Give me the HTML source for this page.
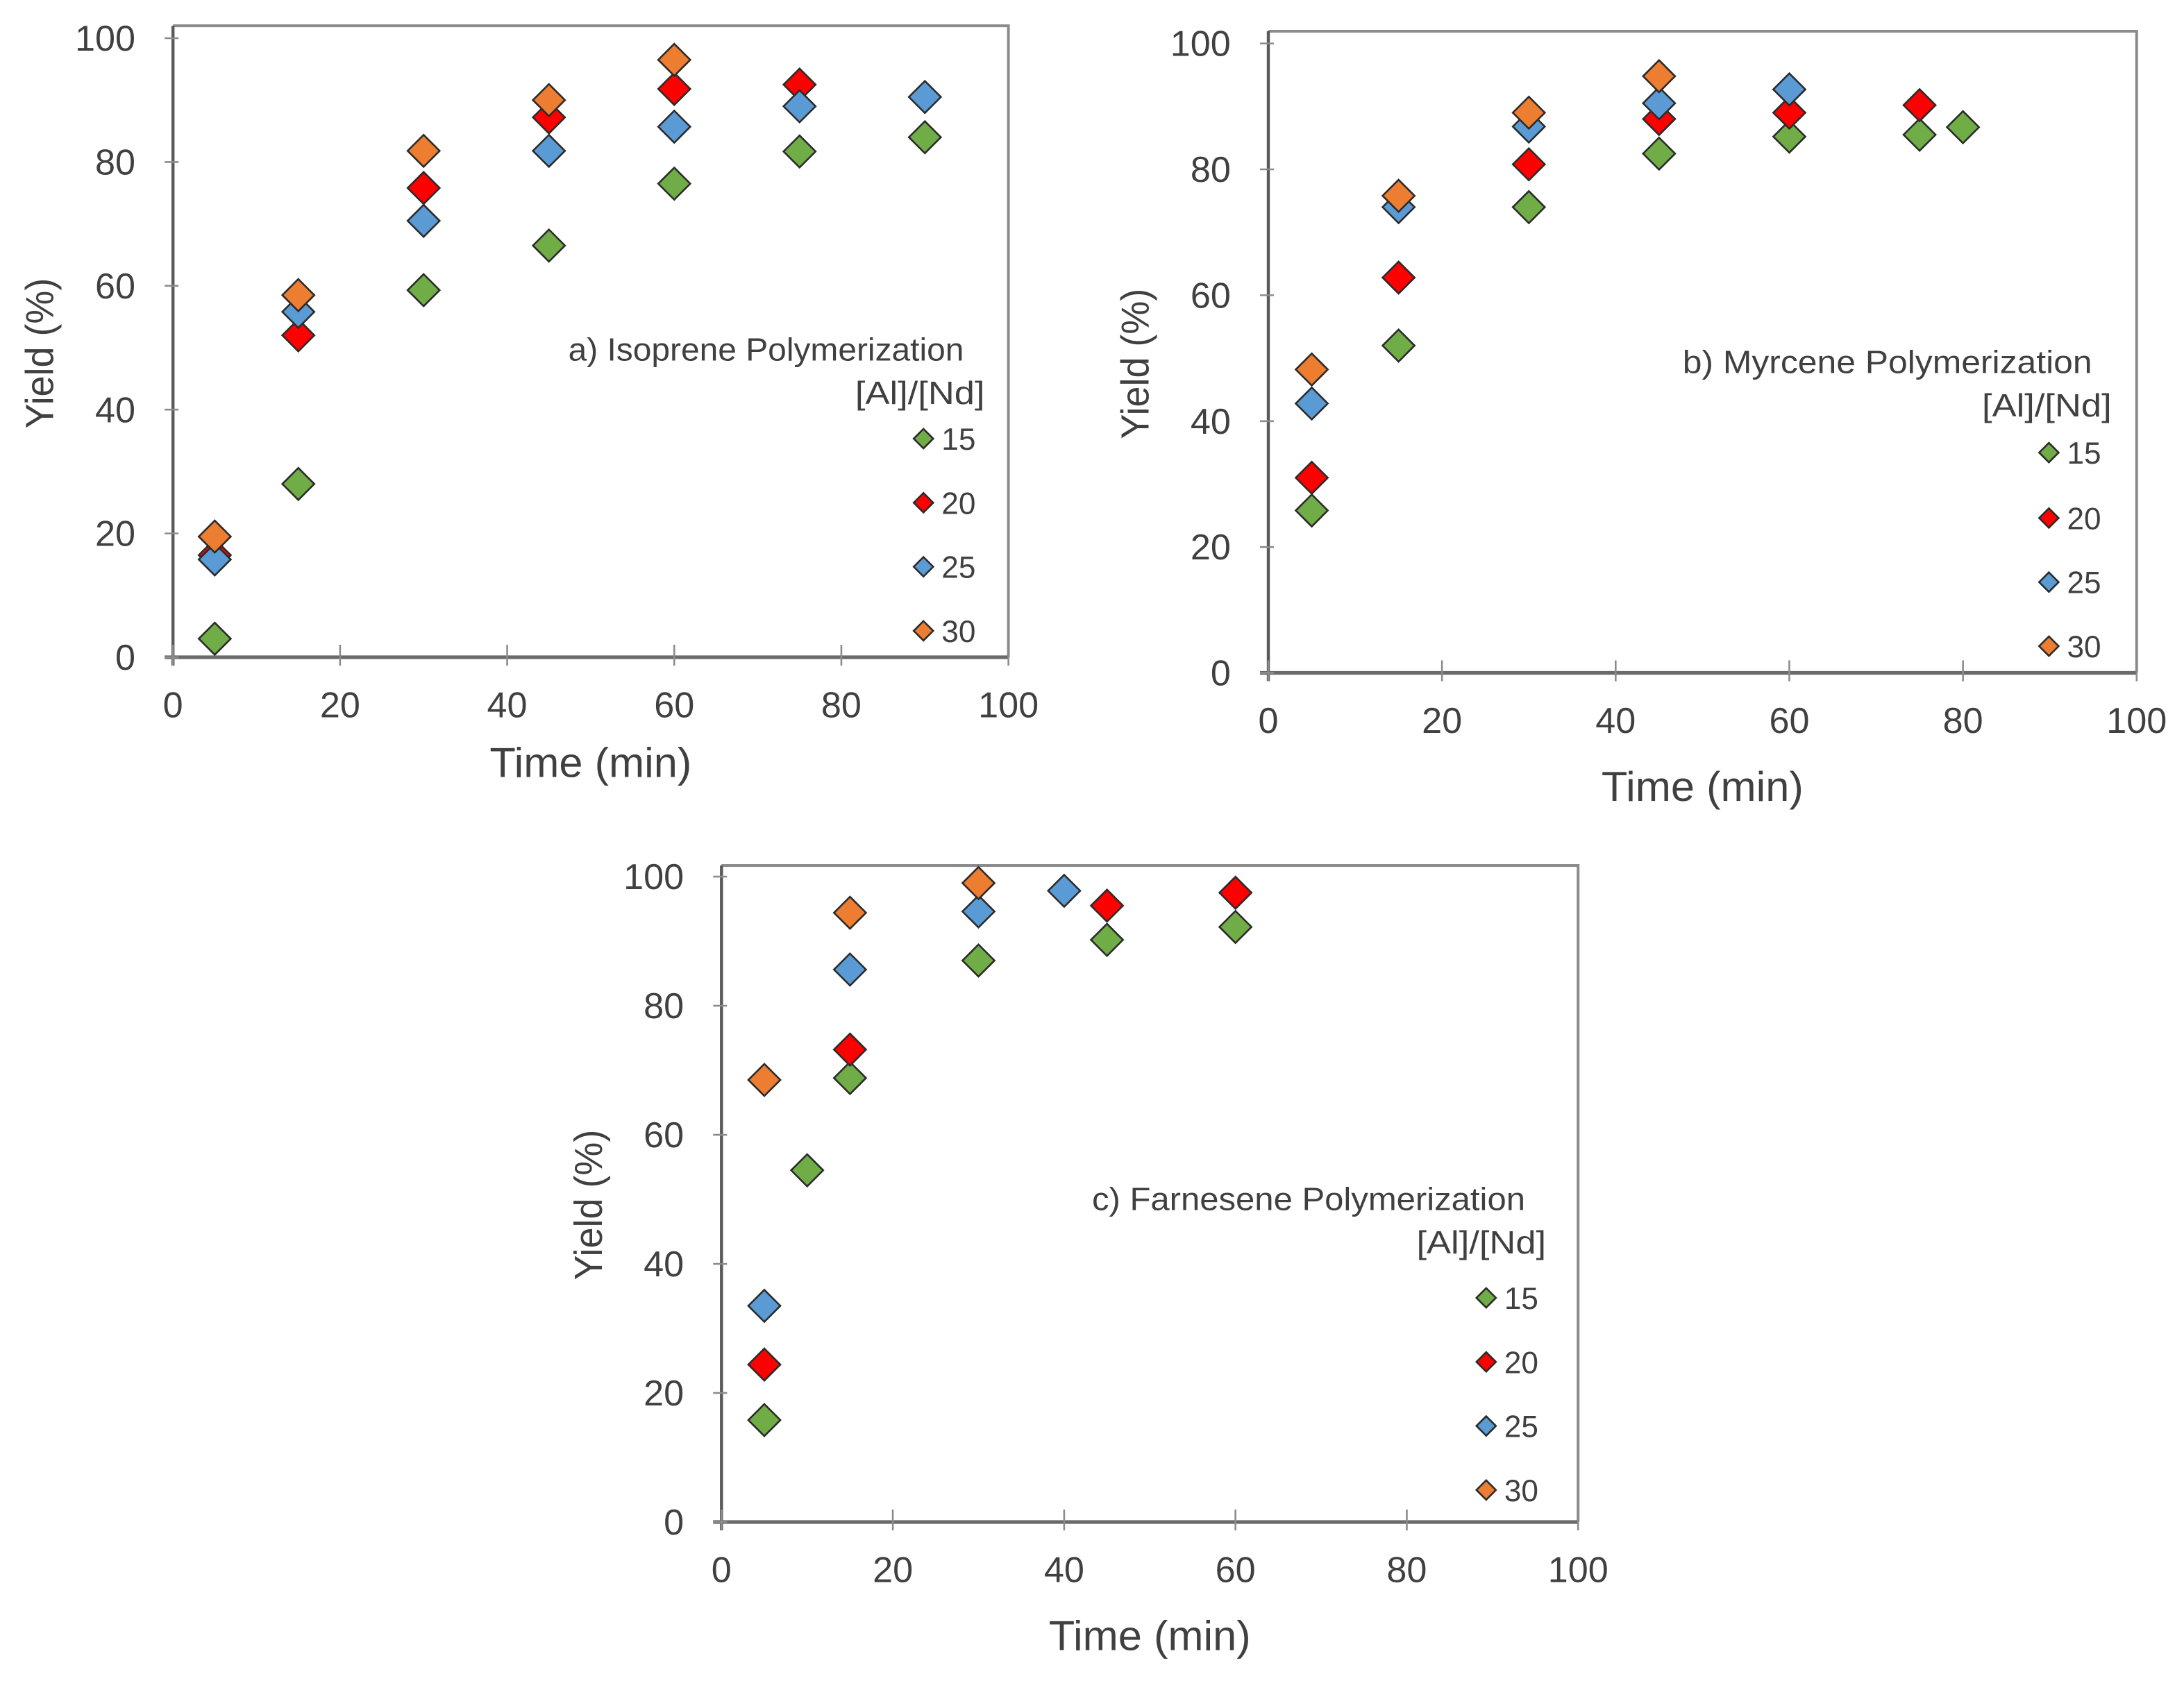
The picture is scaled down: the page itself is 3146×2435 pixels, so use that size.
<!DOCTYPE html>
<html><head><meta charset="utf-8">
<style>
html,body{margin:0;padding:0;background:#fff;}
svg{display:block;}
text{font-family:"Liberation Sans",sans-serif;fill:#404040;}
</style></head>
<body>
<svg id="fig" xmlns="http://www.w3.org/2000/svg" width="3146" height="2435" viewBox="0 0 1568 1213.6">
<rect x="0" y="0" width="1568" height="1213.6" fill="#fff"/>
</svg>
<script>
// ---- data (Time in min, Yield in %) ----
const xTicks = [0,20,40,60,80,100];
const yTicks = [0,20,40,60,80,100];
const seriesLabels = ["15","20","25","30"];
const seriesColors = ["#70ad47","#ff0000","#5b9bd5","#ed7d31"];

const aTime15 = [5,15,30,45,60,75,90];
const aYield15 = [3,28,59.3,66.5,76.5,81.7,84];
const aTime20 = [5,15,30,45,60,75];
const aYield20 = [16.5,52,75.8,87.2,91.8,92.5];
const aTime25 = [5,15,30,45,60,75,90];
const aYield25 = [15.8,55.8,70.5,81.8,85.7,89,90.5];
const aTime30 = [5,15,30,45,60];
const aYield30 = [19.5,58.5,81.8,90,96.5];

const bTime15 = [5,15,30,45,60,75,80];
const bYield15 = [25.8,52,74,82.5,85.2,85.5,86.7];
const bTime20 = [5,15,30,45,60,75];
const bYield20 = [31,62.8,80.8,88,89,90.2];
const bTime25 = [5,15,30,45,60];
const bYield25 = [42.8,74,86.8,90.5,92.7];
const bTime30 = [5,15,30,45];
const bYield30 = [48.2,75.8,89,94.8];

const cTime15 = [5,10,15,30,45,60];
const cYield15 = [15.8,54.5,68.8,87,90.2,92.2];
const cTime20 = [5,15,45,60];
const cYield20 = [24.4,73.2,95.5,97.5];
const cTime25 = [5,15,30,40];
const cYield25 = [33.5,85.6,94.6,97.8];
const cTime30 = [5,15,30];
const cYield30 = [68.5,94.4,99];

const panelTitles = ["a) Isoprene Polymerization","b) Myrcene Polymerization","c) Farnesene Polymerization"];

// ---- layout (not data) ----
const panels = [
  {id:"a", x0:124.2, x1:724, y0:472, y1:27.4, top:18.5, xtOff:86, titleRight:692, titleY:259, titleW:284, subRight:707, subY:290, legX:663, legYs:[315,361,407,453], xs:[aTime15,aTime20,aTime25,aTime30], ys:[aYield15,aYield20,aYield25,aYield30]},
  {id:"b", x0:910.6, x1:1534, y0:483.2, y1:31.2, top:22.4, xtOff:92, titleRight:1502, titleY:268, titleW:294, subRight:1516, subY:299, legX:1471, legYs:[325,372,418,464], xs:[bTime15,bTime20,bTime25,bTime30], ys:[bYield15,bYield20,bYield25,bYield30]},
  {id:"c", x0:518, x1:1133, y0:1093, y1:629.5, top:621.5, xtOff:92, titleRight:1095, titleY:869, titleW:311, subRight:1110, subY:900, legX:1067, legYs:[932,978,1024,1070], xs:[cTime15,cTime20,cTime25,cTime30], ys:[cYield15,cYield20,cYield25,cYield30]}
];

const NS="http://www.w3.org/2000/svg";
const svg=document.getElementById('fig');
function mk(tag, attrs, parent){
  const e=document.createElementNS(NS,tag);
  for(const k in attrs) e.setAttribute(k,attrs[k]);
  (parent||svg).appendChild(e);
  return e;
}
function diamond(cx,cy,r,fill,parent){
  return mk('path',{d:`M${cx} ${cy-r}L${cx+r} ${cy}L${cx} ${cy+r}L${cx-r} ${cy}Z`,fill:fill,stroke:'#2b2b2b','stroke-width':1.3},parent);
}

panels.forEach((p,pi)=>{
  const g=mk('g',{});
  
  
  const sx=v=>p.x0+(v-0)/(100-0)*(p.x1-p.x0);
  const sy=v=>p.y0+(v-0)/(100-0)*(p.y1-p.y0);
  const fr=mk('path',{d:`M${p.x0} ${p.top}L${p.x1} ${p.top}L${p.x1} ${p.y0}`,fill:'none',stroke:'#8c8c8c','stroke-width':2},g);
  
  
  const ya=mk('line',{x1:p.x0,y1:p.top,x2:p.x0,y2:p.y0+6,stroke:'#595959','stroke-width':2.2},g);
  
  
  const xa=mk('line',{x1:p.x0-6,y1:p.y0,x2:p.x1,y2:p.y0,stroke:'#6a6a6a','stroke-width':2.6},g);
  
  
  yTicks.forEach(t=>{
    const y=sy(t);
    mk('line',{x1:p.x0-6,y1:y,x2:p.x0+4,y2:y,stroke:'#8c8c8c','stroke-width':1.3},g);
    const tx=mk('text',{x:p.x0-27,y:y+9,'text-anchor':'end','font-size':26},g);
    tx.textContent=t;
    
    
  });
  xTicks.forEach(t=>{
    const x=sx(t);
    mk('line',{x1:x,y1:p.y0-9,x2:x,y2:p.y0+6,stroke:'#8c8c8c','stroke-width':1.3},g);
    const tx=mk('text',{x:x,y:p.y0+43,'text-anchor':'middle','font-size':26},g);
    tx.textContent=t;
    
    
  });
  const xt=mk('text',{x:(p.x0+p.x1)/2,y:p.y0+p.xtOff,'text-anchor':'middle','font-size':30,textLength:145,lengthAdjust:'spacingAndGlyphs'},g);
  xt.textContent='Time (min)';
  
  
  const ycx=p.x0-96, ycy=(p.y0+p.y1)/2+4;
  const yt=mk('text',{x:ycx,y:ycy,'text-anchor':'middle','font-size':28,textLength:108,lengthAdjust:'spacingAndGlyphs',transform:`rotate(-90 ${ycx} ${ycy}) translate(0 10)`},g);
  yt.textContent='Yield (%)';
  
  
  p.xs.forEach((xsArr,si)=>{
    const sg=mk('g',{},g);
    
    
    xsArr.forEach((xv,i)=>{
      const d=diamond(sx(xv),sy(p.ys[si][i]),11.5,seriesColors[si],sg);
      
      
    });
  });
  const lg=mk('g',{},g);
  
  
  const t1=mk('text',{x:p.titleRight,y:p.titleY,'text-anchor':'end','font-size':23,textLength:p.titleW,lengthAdjust:'spacingAndGlyphs'},lg);
  t1.textContent=panelTitles[pi];
  
  
  const t2=mk('text',{x:p.subRight,y:p.subY,'text-anchor':'end','font-size':23,textLength:93,lengthAdjust:'spacingAndGlyphs'},lg);
  t2.textContent='[Al]/[Nd]';
  
  
  seriesLabels.forEach((lab,si)=>{
    const y=p.legYs[si];
    const m=diamond(p.legX,y,7,seriesColors[si],lg);
    
    
    const lt=mk('text',{x:p.legX+13,y:y+8,'font-size':22},lg);
    lt.textContent=lab;
    
    
  });
});
</script>
</body></html>
